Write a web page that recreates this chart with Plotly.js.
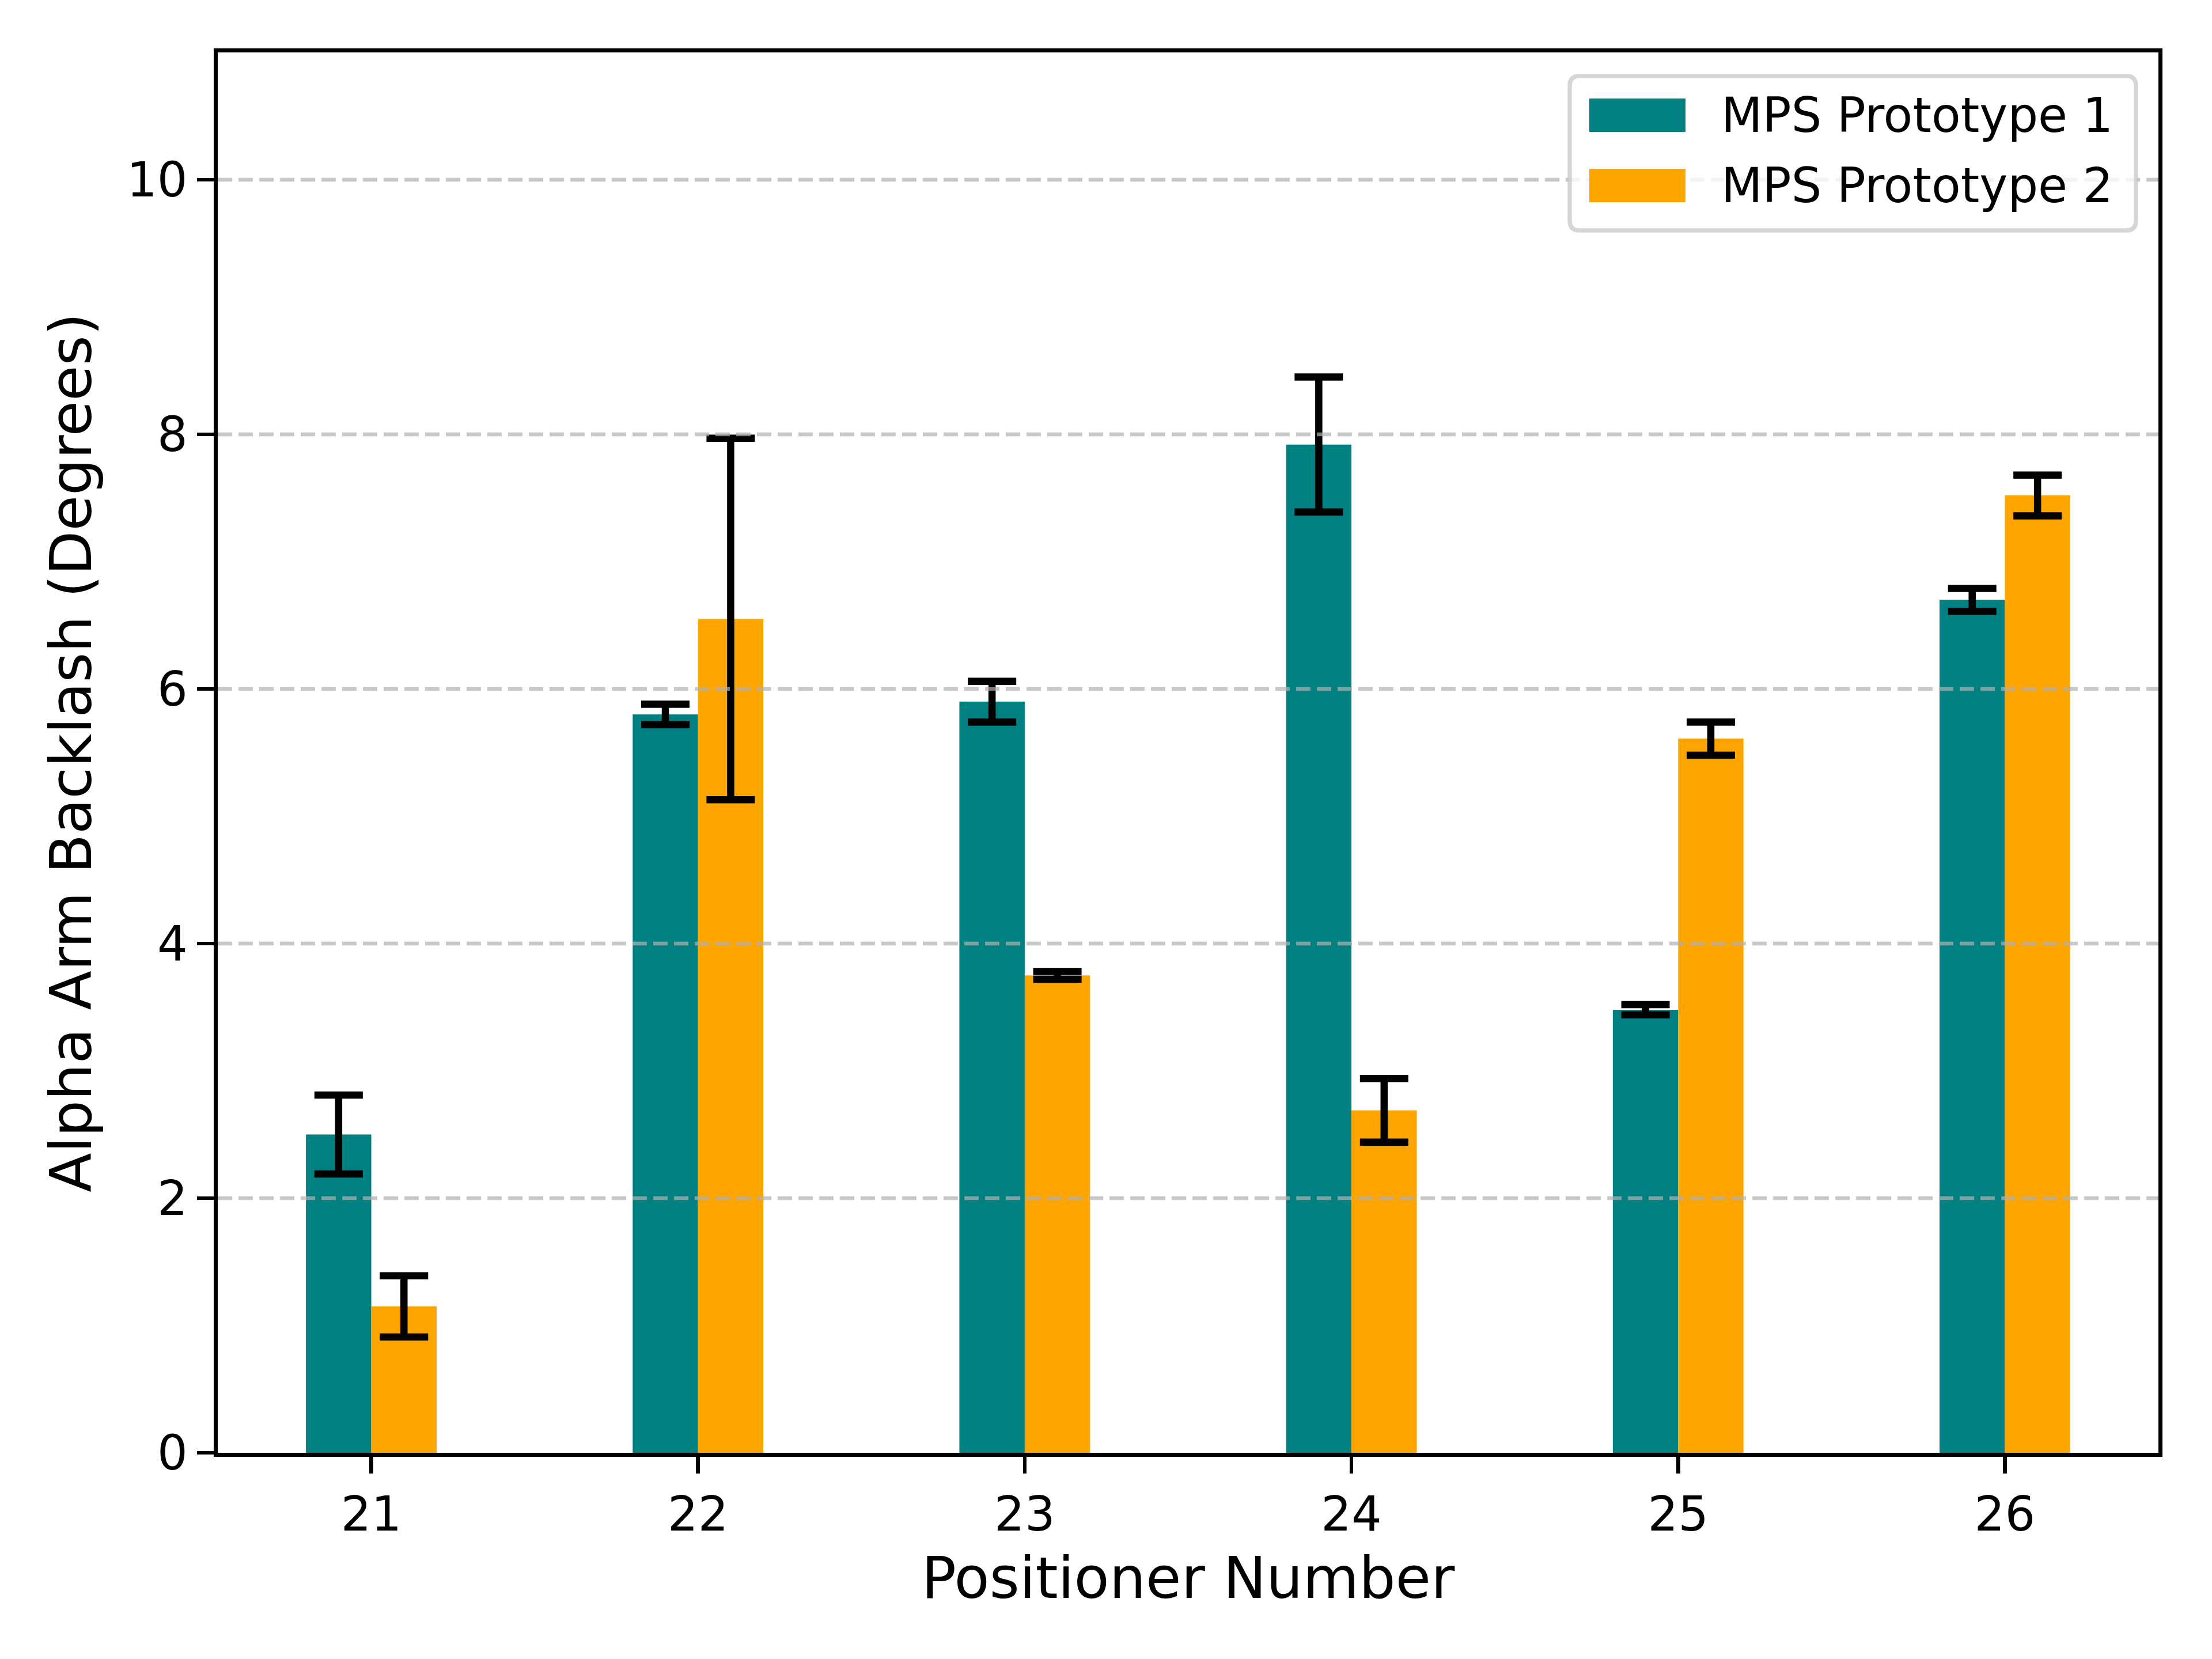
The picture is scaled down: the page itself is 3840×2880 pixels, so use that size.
<!DOCTYPE html>
<html>
<head>
<meta charset="utf-8">
<script src="https://cdn.plot.ly/plotly-3.0.1.min.js"></script>
<style>html,body{margin:0;padding:0;background:#fff;}#chart{width:3840px;height:2880px;}</style>
</head>
<body>
<div id="chart"></div>
<script>
// ---- data ----
const positioners = ['21', '22', '23', '24', '25', '26'];
const seriesNames = ['MPS Prototype 1', 'MPS Prototype 2'];
const proto1 = [2.50, 5.80, 5.90, 7.92, 3.48, 6.70];
const proto1Err = [0.31, 0.08, 0.16, 0.53, 0.04, 0.09];
const proto2 = [1.15, 6.55, 3.75, 2.69, 5.61, 7.52];
const proto2Err = [0.24, 1.42, 0.03, 0.25, 0.13, 0.16];
const yTicks = [0, 2, 4, 6, 8, 10];
const xTitle = 'Positioner Number';
const yTitle = 'Alpha Arm Backlash (Degrees)';

const colors = ['#008080', '#FFA500'];
const FONT = 'DejaVu Sans, Liberation Sans, sans-serif';
const LW = 6.7;

const errStyle = {type: 'data', visible: true, color: '#000000', thickness: 12.5, width: 42};

const traces = [
  {type: 'bar', x: positioners, y: proto1, name: seriesNames[0], marker: {color: colors[0], line: {width: 0}},
   error_y: Object.assign({array: proto1Err}, errStyle), showlegend: false},
  {type: 'bar', x: positioners, y: proto2, name: seriesNames[1], marker: {color: colors[1], line: {width: 0}},
   error_y: Object.assign({array: proto2Err}, errStyle), showlegend: false}
];

// plot area in pixels (for legend placement)
const W = 3840, H = 2880;
const mL = 378, mR = 93, mT = 91, mB = 358;
const pw = W - mL - mR, ph = H - mT - mB;
const px = v => (v - mL) / pw;
const py = v => (H - mB - v) / ph;

const shapes = [];
// dashed horizontal grid lines, drawn above the bars like matplotlib
yTicks.filter(t => t > 0).forEach(t => {
  shapes.push({type: 'line', xref: 'paper', x0: 0, x1: 1, yref: 'y', y0: t, y1: t, layer: 'above',
    line: {color: 'rgba(176,176,176,0.7)', width: LW, dash: '25px,11px'}});
});
// legend frame
const L = px(2725), R = px(3708), T = py(132), B = py(400), rx = 0.005, ry = 0.007;
shapes.push({type: 'path', xref: 'paper', yref: 'paper', layer: 'above',
  path: `M ${L+rx},${T} L ${R-rx},${T} Q ${R},${T} ${R},${T-ry} L ${R},${B+ry} Q ${R},${B} ${R-rx},${B} L ${L+rx},${B} Q ${L},${B} ${L},${B+ry} L ${L},${T-ry} Q ${L},${T} ${L+rx},${T} Z`,
  fillcolor: 'rgba(255,255,255,0.8)', line: {color: 'rgba(204,204,204,0.8)', width: 7.5}});
const patchCenters = [200, 322];
const annotations = [];
seriesNames.forEach((nm, i) => {
  const c = patchCenters[i];
  shapes.push({type: 'rect', xref: 'paper', yref: 'paper', layer: 'above',
    x0: px(2759), x1: px(2926), y0: py(c + 29), y1: py(c - 29),
    fillcolor: colors[i], line: {width: 0}});
  annotations.push({xref: 'paper', yref: 'paper', x: px(2986), y: py(c), xanchor: 'left', yanchor: 'middle',
    text: nm, showarrow: false, font: {family: FONT, size: 83, color: '#000'}});
});

const layout = {
  width: W, height: H,
  margin: {l: mL, r: mR, t: mT, b: mB, pad: 0},
  paper_bgcolor: '#ffffff', plot_bgcolor: '#ffffff',
  font: {family: FONT, size: 83, color: '#000'},
  barmode: 'group', bargap: 0.6, bargroupgap: 0,
  showlegend: false,
  xaxis: {
    type: 'category', categoryorder: 'array', categoryarray: positioners,
    range: [-0.47, 5.47], autorange: false,
    showline: true, mirror: true, linecolor: '#000', linewidth: LW,
    ticks: 'outside', ticklen: 29, tickwidth: LW, tickcolor: '#000',
    showgrid: false, zeroline: false,
    tickfont: {family: FONT, size: 83, color: '#000'},
    title: {text: xTitle, font: {family: FONT, size: 100, color: '#000'}, standoff: 30}
  },
  yaxis: {
    range: [0, 11], autorange: false,
    tickmode: 'array', tickvals: yTicks, ticktext: yTicks.map(String),
    showline: true, mirror: true, linecolor: '#000', linewidth: LW,
    ticks: 'outside', ticklen: 29, tickwidth: LW, tickcolor: '#000',
    showgrid: false, zeroline: false,
    tickfont: {family: FONT, size: 83, color: '#000'},
    title: {text: yTitle, font: {family: FONT, size: 100, color: '#000'}, standoff: 30}
  },
  shapes: shapes,
  annotations: annotations
};

Plotly.newPlot('chart', traces, layout, {displayModeBar: false, staticPlot: true});
</script>
</body>
</html>
